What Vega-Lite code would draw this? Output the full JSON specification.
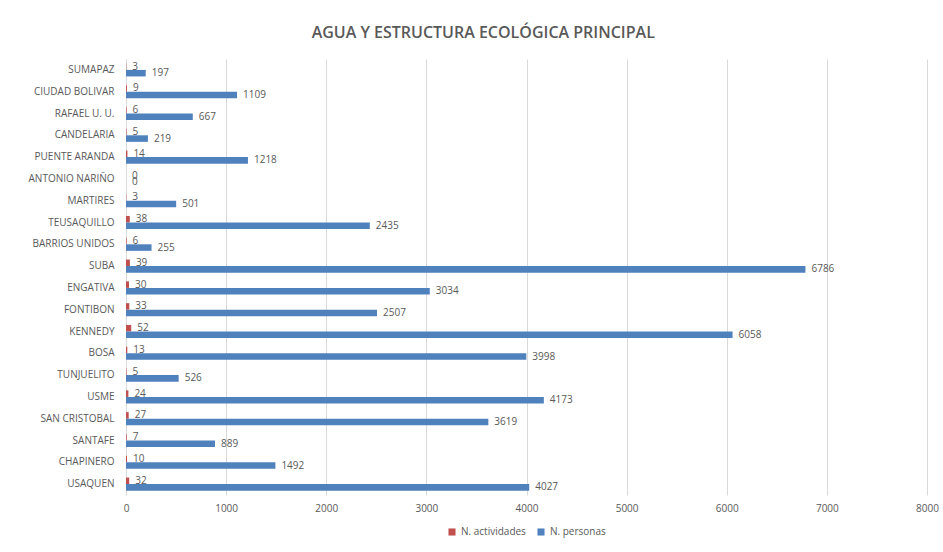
{
  "$schema": "https://vega.github.io/schema/vega-lite/v6.json",
  "autosize": "none",
  "width": 801,
  "height": 436,
  "padding": {"left": 126, "top": 59, "right": 16, "bottom": 57},
  "background": "white",
  "title": {
    "text": "AGUA Y ESTRUCTURA ECOLÓGICA PRINCIPAL",
    "font": "Open Sans",
    "fontSize": 16,
    "fontWeight": 600,
    "color": "#595959",
    "anchor": "middle",
    "frame": "bounds",
    "offset": 18
  },
  "config": {
    "view": {"stroke": null},
    "font": "Open Sans",
    "legend": {"layout": {"bottom": {"anchor": "middle"}}}
  },
  "data": {
    "values": [
      {"distrito": "SUMAPAZ", "serie": "N. actividades", "valor": 3},
      {"distrito": "SUMAPAZ", "serie": "N. personas", "valor": 197},
      {"distrito": "CIUDAD BOLIVAR", "serie": "N. actividades", "valor": 9},
      {"distrito": "CIUDAD BOLIVAR", "serie": "N. personas", "valor": 1109},
      {"distrito": "RAFAEL U. U.", "serie": "N. actividades", "valor": 6},
      {"distrito": "RAFAEL U. U.", "serie": "N. personas", "valor": 667},
      {"distrito": "CANDELARIA", "serie": "N. actividades", "valor": 5},
      {"distrito": "CANDELARIA", "serie": "N. personas", "valor": 219},
      {"distrito": "PUENTE ARANDA", "serie": "N. actividades", "valor": 14},
      {"distrito": "PUENTE ARANDA", "serie": "N. personas", "valor": 1218},
      {"distrito": "ANTONIO NARIÑO", "serie": "N. actividades", "valor": 0},
      {"distrito": "ANTONIO NARIÑO", "serie": "N. personas", "valor": 0},
      {"distrito": "MARTIRES", "serie": "N. actividades", "valor": 3},
      {"distrito": "MARTIRES", "serie": "N. personas", "valor": 501},
      {"distrito": "TEUSAQUILLO", "serie": "N. actividades", "valor": 38},
      {"distrito": "TEUSAQUILLO", "serie": "N. personas", "valor": 2435},
      {"distrito": "BARRIOS UNIDOS", "serie": "N. actividades", "valor": 6},
      {"distrito": "BARRIOS UNIDOS", "serie": "N. personas", "valor": 255},
      {"distrito": "SUBA", "serie": "N. actividades", "valor": 39},
      {"distrito": "SUBA", "serie": "N. personas", "valor": 6786},
      {"distrito": "ENGATIVA", "serie": "N. actividades", "valor": 30},
      {"distrito": "ENGATIVA", "serie": "N. personas", "valor": 3034},
      {"distrito": "FONTIBON", "serie": "N. actividades", "valor": 33},
      {"distrito": "FONTIBON", "serie": "N. personas", "valor": 2507},
      {"distrito": "KENNEDY", "serie": "N. actividades", "valor": 52},
      {"distrito": "KENNEDY", "serie": "N. personas", "valor": 6058},
      {"distrito": "BOSA", "serie": "N. actividades", "valor": 13},
      {"distrito": "BOSA", "serie": "N. personas", "valor": 3998},
      {"distrito": "TUNJUELITO", "serie": "N. actividades", "valor": 5},
      {"distrito": "TUNJUELITO", "serie": "N. personas", "valor": 526},
      {"distrito": "USME", "serie": "N. actividades", "valor": 24},
      {"distrito": "USME", "serie": "N. personas", "valor": 4173},
      {"distrito": "SAN CRISTOBAL", "serie": "N. actividades", "valor": 27},
      {"distrito": "SAN CRISTOBAL", "serie": "N. personas", "valor": 3619},
      {"distrito": "SANTAFE", "serie": "N. actividades", "valor": 7},
      {"distrito": "SANTAFE", "serie": "N. personas", "valor": 889},
      {"distrito": "CHAPINERO", "serie": "N. actividades", "valor": 10},
      {"distrito": "CHAPINERO", "serie": "N. personas", "valor": 1492},
      {"distrito": "USAQUEN", "serie": "N. actividades", "valor": 32},
      {"distrito": "USAQUEN", "serie": "N. personas", "valor": 4027}
    ]
  },
  "encoding": {
    "y": {
      "field": "distrito",
      "type": "nominal",
      "sort": null,
      "scale": {"paddingInner": 0.4, "paddingOuter": 0.2},
      "axis": {
        "title": null,
        "ticks": false,
        "domainColor": "#D9D9D9",
        "labelFont": "Open Sans",
        "labelFontSize": 10,
        "labelColor": "#595959",
        "labelPadding": 12
      }
    },
    "yOffset": {
      "field": "serie",
      "type": "nominal",
      "sort": ["N. actividades", "N. personas"],
      "scale": {"paddingInner": 0, "paddingOuter": 0}
    },
    "x": {
      "field": "valor",
      "type": "quantitative",
      "scale": {"domain": [0, 8000], "nice": false},
      "axis": {
        "title": null,
        "values": [0, 1000, 2000, 3000, 4000, 5000, 6000, 7000, 8000],
        "format": "d",
        "labelOverlap": false,
        "labelFlush": false,
        "domain": false,
        "ticks": false,
        "gridColor": "#D9D9D9",
        "labelFont": "Open Sans",
        "labelFontSize": 10,
        "labelColor": "#595959",
        "labelPadding": 8
      }
    }
  },
  "layer": [
    {
      "mark": {"type": "bar"},
      "encoding": {
        "color": {
          "field": "serie",
          "type": "nominal",
          "scale": {"domain": ["N. actividades", "N. personas"], "range": ["#C0504D", "#4F81BD"]},
          "legend": {
            "title": null,
            "orient": "bottom",
            "direction": "horizontal",
            "symbolType": "square",
            "symbolSize": 50,
            "labelFont": "Open Sans",
            "labelFontSize": 10,
            "labelColor": "#595959",
            "columnPadding": 10,
            "offset": 14
          }
        }
      }
    },
    {
      "mark": {"type": "text", "align": "left", "baseline": "middle", "dx": 6, "font": "Open Sans", "fontSize": 10, "color": "#595959"},
      "encoding": {
        "text": {"field": "valor", "type": "quantitative"}
      }
    }
  ]
}
